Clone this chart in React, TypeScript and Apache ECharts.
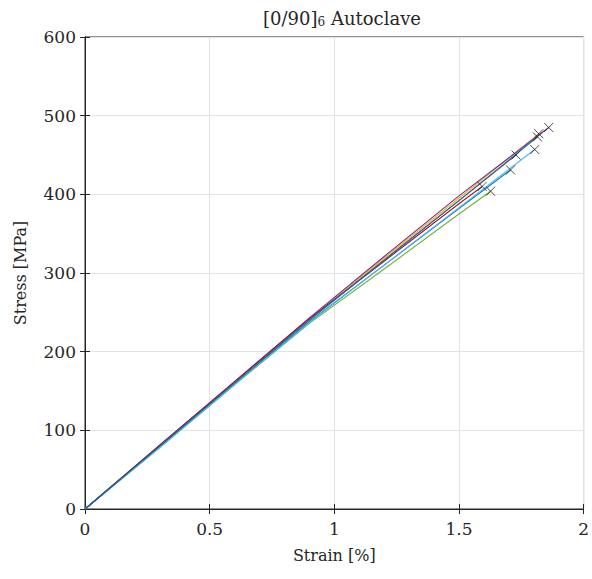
import React, { useEffect, useRef } from "react";
import * as echarts from "echarts";

// Strain [%] sample points for each specimen (last point = failure)
const strain1 = [0, 0.3, 0.6, 0.9, 1.2, 1.5, 1.707];
const stress1 = [0, 79, 159, 238, 310, 382, 431];
const strain2 = [0, 0.3, 0.6, 0.9, 1.2, 1.5, 1.729];
const stress2 = [0, 80, 161, 241, 317, 392, 450];
const strain3 = [0, 0.3, 0.6, 0.9, 1.2, 1.5, 1.82];
const stress3 = [0, 81, 161, 242, 319, 395, 477];
const strain4 = [0, 0.3, 0.6, 0.9, 1.2, 1.5, 1.86];
const stress4 = [0, 81, 162, 243, 321, 398, 485];
const strain5 = [0, 0.3, 0.6, 0.9, 1.2, 1.5, 1.627];
const stress5 = [0, 78, 158, 236, 305, 375, 404];
const strain6 = [0, 0.3, 0.6, 0.9, 1.2, 1.5, 1.804];
const stress6 = [0, 78, 158, 237, 310, 383, 457];
const strain7 = [0, 0.3, 0.6, 0.9, 1.2, 1.5, 1.593];
const stress7 = [0, 81, 162, 242, 315, 388, 410];
const strain8 = [0, 0.3, 0.6, 0.9, 1.2, 1.5, 1.815];
const stress8 = [0, 80, 160, 240, 316, 392, 473];

const strains = [strain1, strain2, strain3, strain4, strain5, strain6, strain7, strain8];
const stresses = [stress1, stress2, stress3, stress4, stress5, stress6, stress7, stress8];
const colors = ["#0072BD", "#D95319", "#EDB120", "#7E2F8E", "#77AC30", "#4DBEEE", "#A2142F", "#0072BD"];

const xTicks = [0, 0.5, 1, 1.5, 2];
const yTicks = [0, 100, 200, 300, 400, 500, 600];

const FONT = "DejaVu Serif";
const TXT = "#262626";

export default function App() {
  const ref = useRef<HTMLDivElement>(null);
  useEffect(() => {
    if (!ref.current) return;
    const chart = echarts.init(ref.current, null, { renderer: "svg" });
    const lineSeries = strains.map((s, i) => ({
      type: "line",
      data: s.map((x, j) => [x, stresses[i][j]]),
      showSymbol: false,
      lineStyle: { color: colors[i], width: 1.1 },
      xAxisIndex: 0,
      yAxisIndex: 0,
      z: 2,
    }));
    const failures = strains.map((s, i) => [s[s.length - 1], stresses[i][stresses[i].length - 1]]);
    const axisCommon = {
      axisLine: { show: true, lineStyle: { color: TXT, width: 1 } },
      axisTick: { show: true, inside: true, length: 5, lineStyle: { color: TXT } },
    };
    chart.setOption({
      animation: false,
      backgroundColor: "#ffffff",
      title: {
        text: "[0/90]{sub|6} Autoclave",
        left: 337,
        textAlign: "center",
        top: 3,
        textStyle: {
          fontFamily: FONT,
          fontSize: 18,
          fontWeight: "normal",
          color: TXT,
          rich: {
            sub: { fontFamily: FONT, fontSize: 12, color: TXT, padding: [8, 0, 0, 0] },
          },
        },
      },
      grid: { left: 85, right: 7, top: 37, bottom: 70, show: true, borderColor: TXT, borderWidth: 1 },
      xAxis: [
        {
          type: "value",
          min: 0,
          max: 2,
          interval: 0.5,
          position: "bottom",
          name: "Strain [%]",
          nameLocation: "middle",
          nameGap: 38,
          nameTextStyle: { fontFamily: FONT, fontSize: 16, color: TXT },
          ...axisCommon,
          axisLabel: {
            fontFamily: FONT,
            fontSize: 17,
            color: TXT,
            margin: 11,
            formatter: (v: number) => (xTicks.includes(v) ? String(v) : ""),
          },
          splitLine: { show: true, lineStyle: { color: "#e3e3e3", width: 1 } },
        },
        {
          type: "value",
          min: 0,
          max: 2,
          interval: 0.5,
          position: "top",
          ...axisCommon,
          axisLabel: { show: false },
          splitLine: { show: false },
        },
      ],
      yAxis: [
        {
          type: "value",
          min: 0,
          max: 600,
          interval: 100,
          position: "left",
          name: "Stress [MPa]",
          nameLocation: "middle",
          nameGap: 57,
          nameRotate: 90,
          nameTextStyle: { fontFamily: FONT, fontSize: 16, color: TXT },
          ...axisCommon,
          axisLabel: {
            fontFamily: FONT,
            fontSize: 17,
            color: TXT,
            margin: 9,
            formatter: (v: number) => (yTicks.includes(v) ? String(v) : ""),
          },
          splitLine: { show: true, lineStyle: { color: "#e3e3e3", width: 1 } },
        },
        {
          type: "value",
          min: 0,
          max: 600,
          interval: 100,
          position: "right",
          ...axisCommon,
          axisLabel: { show: false },
          splitLine: { show: false },
        },
      ],
      series: [
        ...lineSeries,
        {
          type: "scatter",
          data: failures,
          symbol: "path://M0,0L10,10M10,0L0,10",
          symbolSize: 9,
          itemStyle: { color: "transparent", borderColor: "#222222", borderWidth: 1 },
          xAxisIndex: 0,
          yAxisIndex: 0,
          z: 5,
        },
      ],
    });
    return () => chart.dispose();
  }, []);
  return (
    <div
      ref={ref}
      style={{ position: "fixed", left: 0, top: 0, width: 592, height: 579, background: "#fff" }}
    />
  );
}
